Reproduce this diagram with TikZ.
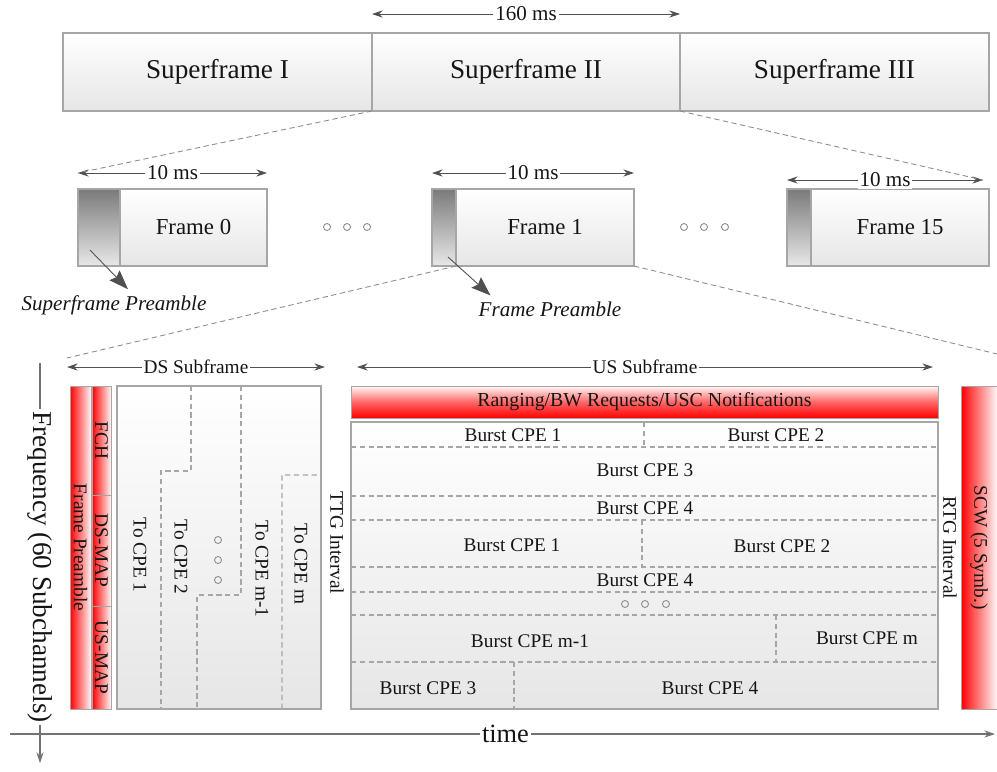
\documentclass[tikz,border=0pt]{standalone}
\usepackage{fontspec}
\setmainfont{Liberation Serif}
\usetikzlibrary{positioning, arrows.meta, calc}
\definecolor{edgegray}{HTML}{A6A6A6}
\definecolor{boxlow}{HTML}{E6E6E6}
\definecolor{predark}{HTML}{7A7A7A}
\definecolor{prelight}{HTML}{E8E8E8}
\definecolor{dimgray}{HTML}{505050}
\definecolor{zoomgray}{HTML}{8C8C8C}
\definecolor{sigred}{HTML}{FF0000}
\definecolor{txtcol}{HTML}{151515}
\newcommand{\pxu}{0.02cm}
\tikzset{
  % light shaded box (superframes, frames, data areas)
  framebox/.style={draw=edgegray, line width=0.8pt, top color=white,
                   bottom color=boxlow, inner sep=0pt, outer sep=0pt,
                   text=txtcol},
  % dark slice = preamble of a frame
  preslice/.style={draw=edgegray, line width=0.8pt, top color=predark,
                   bottom color=prelight, inner sep=0pt, outer sep=0pt},
  % red signalling column, text runs downwards
  redcol/.style={draw=edgegray, line width=0.5pt, rotate=-90,
                 left color=sigred, right color=sigred!3, inner sep=0pt,
                 outer sep=0pt, text=txtcol, font=\fontsize{11}{13}\selectfont},
  % red signalling row
  redrow/.style={draw=edgegray, line width=0.5pt, top color=sigred!3,
                 bottom color=sigred, middle color=sigred!60, inner sep=0pt,
                 outer sep=0pt, text=txtcol, font=\fontsize{11.3}{13}\selectfont},
  dimarr/.style={{Stealth[length=6pt,width=4pt]}-{Stealth[length=6pt,width=4pt]},
                 dimgray, line width=0.5pt},
  dimlbl/.style={fill=white, inner sep=1pt, text=txtcol,
                 font=\fontsize{12}{14}\selectfont},
  zoomline/.style={zoomgray, line width=0.5pt, dash pattern=on 3pt off 2pt},
  divline/.style={edgegray, line width=0.6pt, dash pattern=on 3pt off 2pt},
  gapdot/.style={circle, draw=zoomgray, line width=0.5pt, inner sep=0pt,
                 minimum size=7*\pxu},
  ptrarr/.style={-{Stealth[length=11pt,width=8pt,inset=1.5pt]}, dimgray,
                 line width=0.5pt},
  burst/.style={text=txtcol, inner sep=0pt, font=\fontsize{11}{13}\selectfont},
  vlabel/.style={rotate=-90, text=txtcol, inner sep=0pt,
                 font=\fontsize{11}{13}\selectfont},
  axisline/.style={dimgray!80, line width=0.6pt},
}
\begin{document}
\begin{tikzpicture}[x=\pxu, y=-\pxu]
  \useasboundingbox (0,0) rectangle (997,771);
  % superframes
  \node[framebox, minimum width=309*\pxu, minimum height=78*\pxu,
        anchor=north west, font=\fontsize{15.5}{18}\selectfont] (sf1) at (63,33) {Superframe I};
  \node[framebox, minimum width=308*\pxu, minimum height=78*\pxu,
        right=0pt of sf1, font=\fontsize{15.5}{18}\selectfont] (sf2) {Superframe II};
  \node[framebox, minimum width=309*\pxu, minimum height=78*\pxu,
        right=0pt of sf2, font=\fontsize{15.5}{18}\selectfont] (sf3) {Superframe III};
  \draw[dimarr] ($(sf2.north west)+(0,-19)$) -- node[dimlbl] (ms160) {160 ms}
                ($(sf2.north east)+(0,-19)$);

  % frames of superframe II
  \node[framebox, minimum width=147*\pxu, minimum height=77*\pxu,
        anchor=north west, font=\fontsize{13}{15}\selectfont] (f0) at (120,189) {Frame 0};
  \node[preslice, minimum width=42*\pxu, minimum height=77*\pxu, left=0pt of f0] (p0) {};
  \node[framebox, minimum width=178*\pxu, minimum height=77*\pxu,
        anchor=north west, font=\fontsize{13}{15}\selectfont] (f1) at (456,189) {Frame 1};
  \node[preslice, minimum width=24*\pxu, minimum height=77*\pxu, left=0pt of f1] (p1) {};
  \node[framebox, minimum width=178*\pxu, minimum height=77*\pxu,
        anchor=north west, font=\fontsize{13}{15}\selectfont] (f15) at (811,189) {Frame 15};
  \node[preslice, minimum width=24*\pxu, minimum height=77*\pxu, left=0pt of f15] (p15) {};
  \foreach \i/\x in {1/327,2/347,3/367,4/684,5/704,6/725}
    \node[gapdot] (fd\i) at (\x,227) {};

  % frame lengths
  \coordinate (m0l) at ($(p0.north west)+(0,-16)$);
  \coordinate (m15r) at ($(f15.north east)+(-6,-9)$);
  \draw[dimarr] (m0l) -- node[dimlbl] (ms0) {10 ms} ($(f0.north east)+(0,-16)$);
  \draw[dimarr] ($(p1.north west)+(0,-16)$) -- node[dimlbl] (ms1) {10 ms}
                ($(f1.north east)+(0,-16)$);
  \draw[dimarr] ($(p15.north west)+(0,-9)$) -- node[dimlbl] (ms15) {10 ms} (m15r);
  \draw[zoomline] (sf2.south west) -- (m0l);
  \draw[zoomline] (sf2.south east) -- (m15r);

  % preamble pointers
  \node[text=txtcol, inner sep=1pt, font=\fontsize{12}{14}\selectfont\itshape]
    (spl) at (114,305) {Superframe Preamble};
  \node[text=txtcol, inner sep=1pt, font=\fontsize{12}{14}\selectfont\itshape]
    (fpl) at (550,309) {Frame Preamble};
  \draw[ptrarr] ($(p0.south west)+(12,-16)$) -- ($(spl.north)+(14,-4)$);
  \draw[ptrarr] ($(p1.south west)+(16,-9)$) -- ($(fpl.north west)+(14,-4)$);

  % zoom into frame 1
  \coordinate (zl) at (67,358);
  \coordinate (zr) at (997,354);
  \draw[zoomline] (f1.south west) -- (zl);
  \draw[zoomline] (f1.south east) -- (zr);

  % axes
  \coordinate (fqtop) at (40,363);
  \coordinate (fqend) at (40,763);
  \coordinate (tl) at (10,734);
  \coordinate (tr) at (995,734);
  \draw[axisline, -{Stealth[length=6pt,width=4pt]}] (fqtop) --
    node[pos=0.51, rotate=-90, fill=white, inner sep=1pt, text=txtcol,
         font=\fontsize{15.5}{18}\selectfont] (fq) {Frequency (60 Subchannels)} (fqend);
  \draw[axisline, -{Stealth[length=6pt,width=4pt]}] (tl) --
    node[pos=0.503, fill=white, inner sep=1pt, text=txtcol,
         font=\fontsize{15}{18}\selectfont] (tm) {time} (tr);

  % DS subframe
  \coordinate (dsl) at (67,367);
  \coordinate (dsr) at (325,367);
  \draw[dimarr] (dsl) -- node[dimlbl, font=\fontsize{11}{13}\selectfont] (dslbl) {DS Subframe} (dsr);
  \node[redcol, minimum width=323*\pxu, minimum height=21*\pxu] (fp) at (80.5,547.5) {Frame Preamble};
  \node[redcol, minimum width=109*\pxu, minimum height=19*\pxu, anchor=west] (fch) at (101.5,386) {FCH};
  \node[redcol, minimum width=111*\pxu, minimum height=19*\pxu, anchor=west] (dsmap) at (fch.east) {DS-MAP};
  \node[redcol, minimum width=103*\pxu, minimum height=19*\pxu, anchor=west] (usmap) at (dsmap.east) {US-MAP};
  \node[framebox, minimum width=204*\pxu, minimum height=323*\pxu, anchor=north west] (ds) at (117,386) {};
  \draw[divline] ($(ds.north west)+(74,0)$) -- ++(0,85) -- ++(-30,0) -- ($(ds.south west)+(44,0)$);
  \draw[divline] ($(ds.north west)+(124,0)$) -- ++(0,209) -- ++(-44,0) -- ($(ds.south west)+(80,0)$);
  \draw[divline] ($(ds.south west)+(165,0)$) -- ++(0,-234) -- ($(ds.north east)+(0,89)$);
  \foreach \n/\x/\y/\t in {1/140/555/To CPE 1, 2/181/557/To CPE 2,
                           3/262/569/To CPE m-1, 4/301/564/To CPE m}
    \node[vlabel] (to\n) at (\x,\y) {\t};
  \foreach \i/\y in {1/540,2/560,3/580}
    \node[gapdot] (dsd\i) at (218,\y) {};
  \node[vlabel] (ttg) at (337,543) {TTG Interval};

  % US subframe
  \coordinate (usl) at (357,367);
  \coordinate (usr) at (933,367);
  \draw[dimarr] (usl) -- node[dimlbl, font=\fontsize{11}{13}\selectfont] (uslbl) {US Subframe} (usr);
  \node[redrow, minimum width=587*\pxu, minimum height=32*\pxu, anchor=north west]
    (rng) at (351,386) {Ranging/BW Requests/USC Notifications};
  \node[framebox, minimum width=587*\pxu, minimum height=287*\pxu, anchor=north west] (us) at (351,422) {};
  \foreach \yy in {25,74,98,145,170,193,240}
    \draw[divline] ($(us.north west)+(0,\yy)$) -- ($(us.north east)+(0,\yy)$);
  \draw[divline] ($(us.north west)+(293,0)$) -- ++(0,25);
  \draw[divline] ($(us.north west)+(291,98)$) -- ++(0,47);
  \draw[divline] ($(us.north west)+(425,193)$) -- ++(0,47);
  \draw[divline] ($(us.north west)+(163,240)$) -- ($(us.south west)+(163,0)$);
  \foreach \n/\x/\y/\t in {1/513/435/Burst CPE 1, 2/776/435/Burst CPE 2,
                           3/645/470/Burst CPE 3, 4/645/508/Burst CPE 4,
                           5/512/545/Burst CPE 1, 6/782/546/Burst CPE 2,
                           7/645/580/Burst CPE 4, 8/530/641/Burst CPE m-1,
                           9/867/638/Burst CPE m, 10/428/688/Burst CPE 3,
                           11/710/688/Burst CPE 4}
    \node[burst] (b\n) at (\x,\y) {\t};
  \foreach \i/\x in {1/625,2/645,3/666}
    \node[gapdot] (usd\i) at (\x,604) {};
  \node[vlabel] (rtg) at (950,548) {RTG Interval};
  \node[redcol, minimum width=323*\pxu, minimum height=36*\pxu] (scw) at (979,547.5) {SCW (5 Symb.)};
\end{tikzpicture}
\end{document}
